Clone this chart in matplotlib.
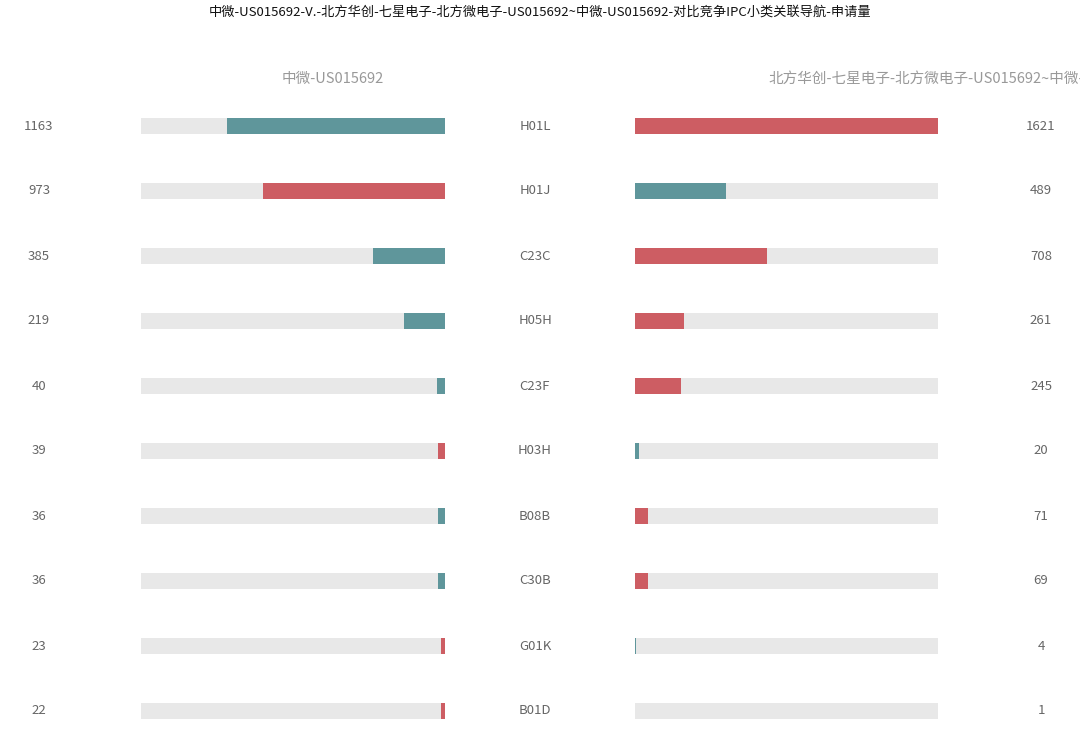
import matplotlib
matplotlib.use("Agg")
import matplotlib.pyplot as plt

plt.rcParams['font.family'] = ['Noto Sans CJK SC', 'DejaVu Sans']

categories = ["H01L", "H01J", "C23C", "H05H", "C23F", "H03H", "B08B", "C30B", "G01K", "B01D"]
left_values = [1163, 973, 385, 219, 40, 39, 36, 36, 23, 22]
right_values = [1621, 489, 708, 261, 245, 20, 71, 69, 4, 1]
title = "中微-US015692-V.-北方华创-七星电子-北方微电子-US015692~中微-US015692-对比竞争IPC小类关联导航-申请量"
left_name = "中微-US015692"
right_name = "北方华创-七星电子-北方微电子-US015692~中微-US015692"

TEAL = "#5f969b"
RED = "#cd5d63"
BG = "#e8e8e8"
TXT = "#666666"

W, H = 1080, 745
fig = plt.figure(figsize=(W / 100, H / 100), dpi=100)
vmax = max(max(left_values), max(right_values))
n = len(categories)

def px_axes(x0, x1, y0, y1):
    return fig.add_axes([x0 / W, 1 - y1 / H, (x1 - x0) / W, (y1 - y0) / H])

row_top = 93.5
row_bot = row_top + 65 * n
axL = px_axes(141, 445, row_top, row_bot)
axR = px_axes(635, 938, row_top, row_bot)
bh = 16 / 65

for ax in (axL, axR):
    ax.set_ylim(n - 0.5, -0.5)
    ax.set_axis_off()
axL.set_xlim(vmax, 0)
axR.set_xlim(0, vmax)

ys = list(range(n))
colL = [RED if l > r else TEAL for l, r in zip(left_values, right_values)]
colR = [RED if r > l else TEAL for l, r in zip(left_values, right_values)]
axL.barh(ys, [vmax] * n, height=bh, color=BG, linewidth=0)
axL.barh(ys, left_values, height=bh, color=colL, linewidth=0)
axR.barh(ys, [vmax] * n, height=bh, color=BG, linewidth=0)
axR.barh(ys, right_values, height=bh, color=colR, linewidth=0)

for i in range(n):
    yc = 1 - (126 + 65 * i) / H
    fig.text(39 / W, yc, str(left_values[i]), ha="center", va="center", fontsize=9.5, color=TXT)
    fig.text(535 / W, yc, categories[i], ha="center", va="center", fontsize=9.5, color=TXT)
    fig.text(1041 / W, yc, str(right_values[i]), ha="center", va="center", fontsize=9.5, color=TXT)

fig.text(540 / W, 1 - 12 / H, title, ha="center", va="center", fontsize=9.5, color="#111111")
fig.text(333 / W, 1 - 79 / H, left_name, ha="center", va="center", fontsize=10.5, color="#999999")
fig.text(768 / W, 1 - 79 / H, right_name, ha="left", va="center", fontsize=10.5, color="#999999")

fig.savefig("out.png", dpi=100, facecolor="white")
